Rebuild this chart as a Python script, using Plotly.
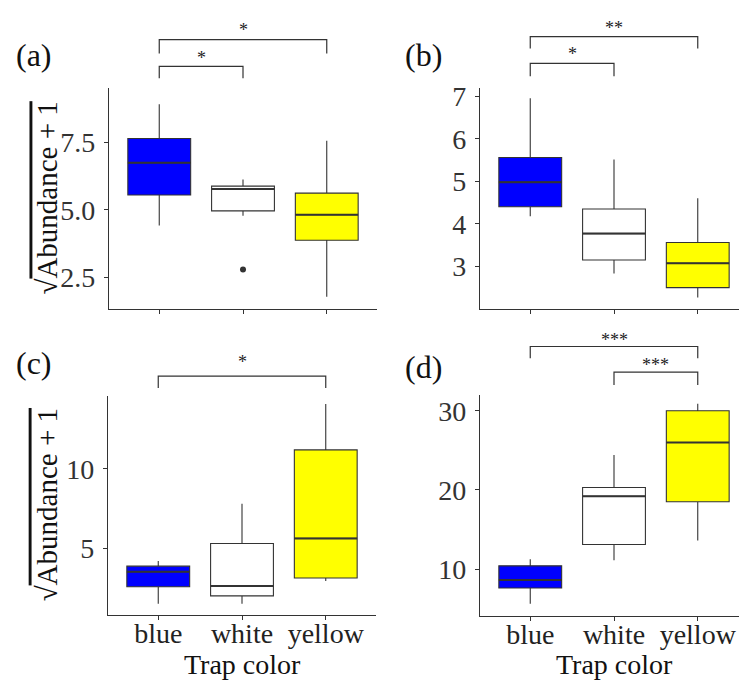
import plotly.graph_objects as go

# ---------------- data ----------------
categories = ["blue", "white", "yellow"]
fill_colors = ["#0000FF", "#FFFFFF", "#FFFF00"]

# panel (a)
a_lower = [4.42, 4.78, 1.77]
a_q1 = [5.55, 4.96, 3.87]
a_median = [6.75, 5.77, 4.82]
a_q3 = [7.65, 5.88, 5.62]
a_upper = [8.92, 6.13, 7.57]
a_out_cat = ["white"]
a_out_val = [2.78]
a_ticks = [2.5, 5.0, 7.5]
a_range = [1.32, 9.52]
a_sig = [("blue", "white", "*"), ("blue", "yellow", "*")]

# panel (b)
b_lower = [4.18, 2.83, 2.27]
b_q1 = [4.40, 3.15, 2.50]
b_median = [4.98, 3.77, 3.07]
b_q3 = [5.56, 4.35, 3.56]
b_upper = [6.95, 5.51, 4.60]
b_out_cat = []
b_out_val = []
b_ticks = [3, 4, 5, 6, 7]
b_range = [2.0, 7.19]
b_sig = [("blue", "white", "*"), ("blue", "yellow", "**")]

# panel (c)
c_lower = [1.50, 1.50, 2.94]
c_q1 = [2.57, 2.00, 3.12]
c_median = [3.52, 2.62, 5.62]
c_q3 = [3.87, 5.30, 11.2]
c_upper = [4.19, 7.80, 14.1]
c_out_cat = []
c_out_val = []
c_ticks = [5, 10]
c_range = [0.81, 14.6]
c_sig = [("blue", "yellow", "*")]

# panel (d)
d_lower = [5.6, 11.1, 13.6]
d_q1 = [7.6, 13.1, 18.5]
d_median = [8.6, 19.2, 26.0]
d_q3 = [10.4, 20.3, 30.0]
d_upper = [11.25, 24.4, 30.9]
d_out_cat = []
d_out_val = []
d_ticks = [10, 20, 30]
d_range = [4.1, 32.0]
d_sig = [("blue", "yellow", "***"), ("white", "yellow", "***")]

panel_labels = ["(a)", "(b)", "(c)", "(d)"]
y_title = "√<span style='text-decoration:overline'>Abundance + 1</span>"
x_title = "Trap color"

# ---------------- layout helpers ----------------
W, H = 739, 682
FONT = "Liberation Serif"
DARK = "#333333"


def px(x):
    return x / W


def py(y):
    return 1 - y / H


panels = [
    dict(lower=a_lower, q1=a_q1, med=a_median, q3=a_q3, upper=a_upper,
         oc=a_out_cat, ov=a_out_val, ticks=a_ticks, fmt="{:.1f}", rng=a_range, sig=a_sig,
         box=(109, 377, 82, 305), xr=[0.4, 3.6], xlabels=False, ytitle=True,
         lab=(34, 49), levels=[(60, 72, 48), (33, 47, 19)]),
    dict(lower=b_lower, q1=b_q1, med=b_median, q3=b_q3, upper=b_upper,
         oc=b_out_cat, ov=b_out_val, ticks=b_ticks, fmt="{:d}", rng=b_range, sig=b_sig,
         box=(480, 739, 82, 305), xr=[0.4, 0.4 + 259 / 83.75], xlabels=False, ytitle=False,
         lab=(424, 48), levels=[(57, 70, 43), (30, 42, 17)]),
    dict(lower=c_lower, q1=c_q1, med=c_median, q3=c_q3, upper=c_upper,
         oc=c_out_cat, ov=c_out_val, ticks=c_ticks, fmt="{:d}", rng=c_range, sig=c_sig,
         box=(108, 376, 393, 614), xr=[0.4, 3.6], xlabels=True, ytitle=True,
         lab=(34, 360), levels=[(373, 385, 355)]),
    dict(lower=d_lower, q1=d_q1, med=d_median, q3=d_q3, upper=d_upper,
         oc=d_out_cat, ov=d_out_val, ticks=d_ticks, fmt="{:d}", rng=d_range, sig=d_sig,
         box=(480, 739, 392, 615), xr=[0.4, 0.4 + 259 / 83.75], xlabels=True, ytitle=False,
         lab=(424, 364), levels=[(343, 355, 332), (369, 382, 358)]),
]

fig = go.Figure()
shapes = []
annotations = []
layout_axes = {}
BOXW = 0.75

for k, p in enumerate(panels):
    sfx = "" if k == 0 else str(k + 1)
    xa, ya = "x" + sfx, "y" + sfx
    for i, cat in enumerate(categories):
        xpos = i + 1
        fig.add_trace(go.Box(
            x=[xpos], q1=[p["q1"][i]], median=[p["med"][i]], q3=[p["q3"][i]],
            lowerfence=[p["lower"][i]], upperfence=[p["upper"][i]],
            width=BOXW, fillcolor=fill_colors[i],
            line=dict(color=DARK, width=1.1), whiskerwidth=0, boxpoints=False,
            xaxis=xa, yaxis=ya, showlegend=False, hoverinfo="skip"))
        fig.add_trace(go.Scatter(
            x=[xpos - BOXW / 2, xpos + BOXW / 2], y=[p["med"][i], p["med"][i]],
            mode="lines", line=dict(color=DARK, width=2),
            xaxis=xa, yaxis=ya, showlegend=False, hoverinfo="skip"))
    if p["oc"]:
        fig.add_trace(go.Scatter(
            x=[categories.index(c) + 1 for c in p["oc"]], y=p["ov"], mode="markers",
            marker=dict(color=DARK, size=6), xaxis=xa, yaxis=ya,
            showlegend=False, hoverinfo="skip"))

    x0, x1, ytop, ybot = p["box"]
    axis_common = dict(showline=True, linecolor=DARK, linewidth=1.1, ticks="outside",
                       ticklen=4, tickwidth=1.1, tickcolor=DARK, showgrid=False,
                       zeroline=False, fixedrange=True)
    layout_axes["xaxis" + sfx] = dict(
        axis_common, domain=[px(x0), px(x1)], range=p["xr"], anchor=ya,
        tickvals=[1, 2, 3], ticktext=categories if p["xlabels"] else ["", "", ""],
        tickfont=dict(family=FONT, size=28, color="#222222"), ticklabelstandoff=-10)
    layout_axes["yaxis" + sfx] = dict(
        axis_common, domain=[py(ybot), py(ytop)], range=p["rng"], anchor=xa,
        tickvals=p["ticks"], ticktext=[p["fmt"].format(t) for t in p["ticks"]],
        tickfont=dict(family=FONT, size=28, color="#333333"), ticklabelstandoff=3)

    # significance brackets
    for (g1, g2, lab), (yb, ydrop, ys) in zip(p["sig"], p["levels"]):
        i1, i2 = categories.index(g1) + 1, categories.index(g2) + 1
        shapes.append(dict(
            type="path", xref=xa, yref="paper",
            path=f"M {i1},{py(ydrop)} L {i1},{py(yb)} L {i2},{py(yb)} L {i2},{py(ydrop)}",
            line=dict(color=DARK, width=1.2)))
        annotations.append(dict(
            x=(i1 + i2) / 2, y=py(ys + 4), xref=xa, yref="paper", text=lab,
            showarrow=False, font=dict(family=FONT, size=18, color="#222222"),
            xanchor="center", yanchor="middle"))

    # panel label
    annotations.append(dict(
        x=px(p["lab"][0]), y=py(p["lab"][1]), xref="paper", yref="paper",
        text=panel_labels[k], showarrow=False, xanchor="center", yanchor="middle",
        font=dict(family=FONT, size=32, color="#111111")))

    if p["ytitle"]:
        annotations.append(dict(
            x=px(47), y=py((ytop + ybot) / 2), xref="paper", yref="paper",
            text=y_title, textangle=-90, showarrow=False, xanchor="center",
            yanchor="middle", font=dict(family=FONT, size=29, color="#111111")))
    if p["xlabels"]:
        annotations.append(dict(
            x=(1 + 3) / 2, y=py(664), xref=xa, yref="paper", text=x_title,
            showarrow=False, xanchor="center", yanchor="middle",
            font=dict(family=FONT, size=28, color="#111111")))

fig.update_layout(
    width=W, height=H, margin=dict(l=0, r=0, t=0, b=0),
    paper_bgcolor="white", plot_bgcolor="white",
    font=dict(family=FONT), shapes=shapes, annotations=annotations,
    **layout_axes)

fig.write_html("out.html", config={"displayModeBar": False},
               post_script="document.body.style.margin='0';document.body.style.overflow='hidden';")
